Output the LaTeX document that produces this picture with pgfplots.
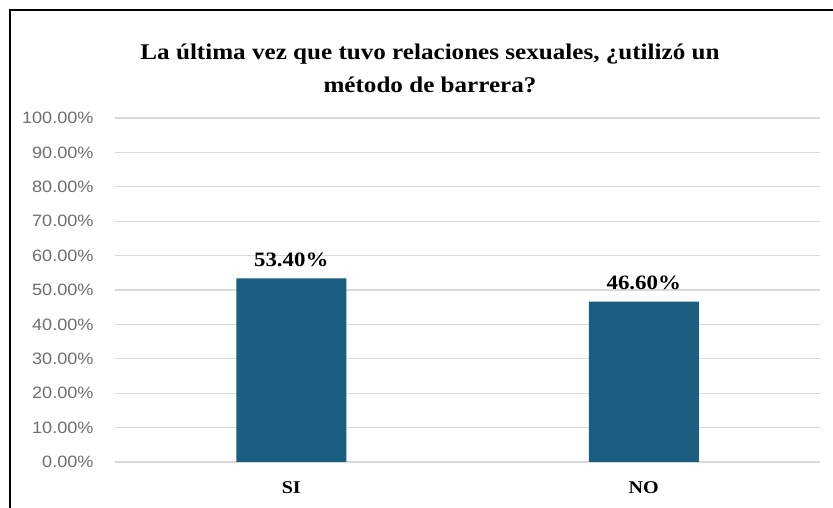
\documentclass[border=0pt]{standalone}
\usepackage{fontspec}
\setmainfont{Liberation Serif}[FakeStretch=1.12]
\newfontfamily\tickfont{Liberation Sans}[FakeStretch=1.1]
\usepackage{pgfplots}
\pgfplotsset{compat=1.18}
\definecolor{barblue}{HTML}{1A5E80}
\definecolor{gridgray}{HTML}{D9D9D9}
\definecolor{ticktext}{HTML}{6E6E6E}
\begin{document}
\begin{tikzpicture}[x=1bp,y=1bp]
\path[use as bounding box] (0,0) rectangle (833,508);
\draw[line width=2bp,black] (10,0) -- (10,498) -- (833,498);
\node[align=center,font=\fontsize{22.5}{33}\selectfont\bfseries] at (430,439.5)
  {La última vez que tuvo relaciones sexuales, ¿utilizó un\\método de barrera?};
\begin{axis}[
  at={(115bp,46bp)}, anchor=south west,
  scale only axis, width=705bp, height=344bp,
  xmin=-0.5, xmax=1.5, ymin=0, ymax=100,
  xtick={0,1}, xticklabels={SI,NO},
  ytick={0,10,...,100},
  yticklabel={\pgfmathprintnumber[fixed,fixed zerofill,precision=2]{\tick}\%},
  /pgf/number format/assume math mode=true,
  yticklabel style={font=\tickfont\fontsize{16.5}{17}\selectfont, text=ticktext, xshift=-18bp},
  xticklabel style={font=\fontsize{18}{20}\selectfont\bfseries, yshift=-16bp},
  ymajorgrids, grid style={gridgray, line width=1.2bp},
  axis line style={draw=none},
  major tick style={draw=none},
  clip=false,
  nodes near coords={\pgfmathprintnumber[fixed,fixed zerofill,precision=2]{\pgfplotspointmeta}\%},
  nodes near coords style={font=\fontsize{20.5}{22}\selectfont\bfseries, anchor=south, yshift=8bp},
]
\addplot[ybar, bar width=110bp, fill=barblue, draw=none] coordinates {(0,53.40) (1,46.60)};
\end{axis}
\end{tikzpicture}
\end{document}
